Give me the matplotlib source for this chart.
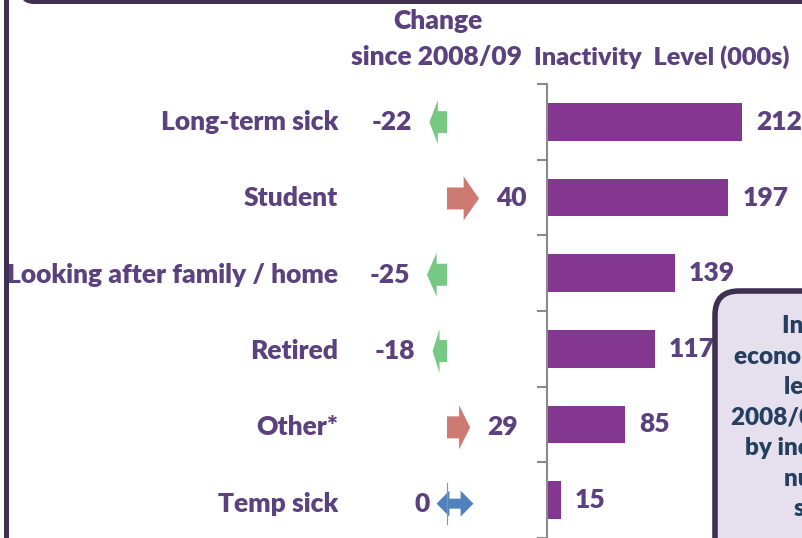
import matplotlib
matplotlib.use('Agg')
import matplotlib.pyplot as plt
from matplotlib.patches import FancyBboxPatch, Rectangle

plt.rcParams['font.family'] = ['Lato', 'DejaVu Sans']

# data
categories = ['Long-term sick', 'Student', 'Looking after family / home',
              'Retired', 'Other*', 'Temp sick']
level = [212, 197, 139, 117, 85, 15]          # inactivity level (000s)
change = [-22, 40, -25, -18, 29, 0]           # change since 2008/09
note_lines = ['Increase in', 'economic inactivity', 'level since',
              '2008/09 was driven', 'by increase in the', 'number of',
              'students']

txt_col = '#5b417e'
bar_col = '#833790'
up_col = '#cd7b72'
down_col = '#77c883'
flat_col = '#4f81bd'
frame_col = '#3f3052'
fw = 'heavy'

W, H = 803, 538
fig = plt.figure(figsize=(W / 100, H / 100), dpi=100)


def px_axes(x0, x1, y0, y1):
    # axes from pixel box, y measured from top
    return fig.add_axes([x0 / W, 1 - y1 / H, (x1 - x0) / W, (y1 - y0) / H])


y_top = 84
row_h = 76.3
ylim = (-0.5 + (H - y_top) / row_h, -0.5)
fs = 19

# ---- bars
ax = px_axes(547, W, y_top, H)
ax.barh(range(len(level)), level, height=0.5, color=bar_col)
ax.set_xlim(0, (W - 547) / 0.92)
ax.set_ylim(*ylim)
for s in ['top', 'right', 'bottom']:
    ax.spines[s].set_visible(False)
ax.spines['left'].set_color('#8a8a8a')
ax.spines['left'].set_linewidth(1.5)
ax.set_xticks([])
ax.set_yticks([])
ax.set_yticks([i - 0.5 for i in range(len(level) + 1)], minor=True)
ax.tick_params(axis='y', which='minor', length=7.5, width=1.5, color='#8a8a8a',
               labelleft=False)
for i, v in enumerate(level):
    ax.annotate(str(v), (v, i), xytext=(14, 0), textcoords='offset pixels',
                ha='left', va='center', fontsize=fs, color=txt_col,
                fontweight=fw)

# ---- change arrows
ac = px_axes(340, 547, y_top, H)
ac.set_xlim((340 - 447) / 0.8, (547 - 447) / 0.8)
ac.set_ylim(*ylim)
ac.axis('off')
for i, v in enumerate(change):
    if v != 0:
        ac.arrow(0, i, v, 0, width=22 / row_h, head_width=44 / row_h,
                 head_length=0.48 * abs(v), length_includes_head=True,
                 color=up_col if v > 0 else down_col, lw=0)
        off = 17 if v > 0 else -17
        ac.annotate(str(v), (v, i), xytext=(off, 0), textcoords='offset pixels',
                    ha='left' if v > 0 else 'right', va='center', fontsize=fs,
                    color=txt_col, fontweight=fw)
    else:
        ac.plot([0, 0], [i - 0.27, i + 0.27], color=up_col, lw=0.8)
        for d in (-23, 23):
            ac.arrow(10, i, d, 0, width=10 / row_h, head_width=26 / row_h,
                     head_length=16, length_includes_head=True,
                     color=flat_col, lw=0)
        ac.annotate(str(v), (10 - 23, i), xytext=(-7, 0),
                    textcoords='offset pixels', ha='right', va='center',
                    fontsize=fs, color=txt_col, fontweight=fw)
    ac.text(-2 / 207, i, categories[i], transform=ac.get_yaxis_transform(),
            ha='right', va='center', fontsize=fs, color=txt_col,
            fontweight=fw)

# ---- headers
fig.text(438 / W, 1 - 21 / H, 'Change', ha='center', va='center',
         fontsize=fs, color=txt_col, fontweight=fw)
fig.text(437 / W, 1 - 57 / H, 'since 2008/09', ha='center', va='center',
         fontsize=fs, color=txt_col, fontweight=fw)
fig.text(662 / W, 1 - 57 / H, 'Inactivity  Level (000s)', ha='center',
         va='center', fontsize=18.2, color=txt_col, fontweight=fw)

# ---- frame and note box
ad = fig.add_axes([0, 0, 1, 1], zorder=5)
ad.set_xlim(0, W)
ad.set_ylim(H, 0)
ad.axis('off')
ad.add_patch(Rectangle((4, 0), 5, H, color=frame_col, lw=0))
ad.add_patch(FancyBboxPatch((20, -60), 900, 64,
                            boxstyle='round,pad=0,rounding_size=14',
                            color=frame_col, lw=0))
ad.add_patch(FancyBboxPatch((715, 291), 220, 320,
                            boxstyle='round,pad=0,rounding_size=24',
                            fc='#e6e0ee', ec=frame_col, lw=4))
for k, line in enumerate(note_lines):
    ad.text(841, 326 + k * 30.5, line, ha='center', va='center', fontsize=17.5,
            color='#253f5f', fontweight=fw)

fig.savefig('out.png', dpi=100)
